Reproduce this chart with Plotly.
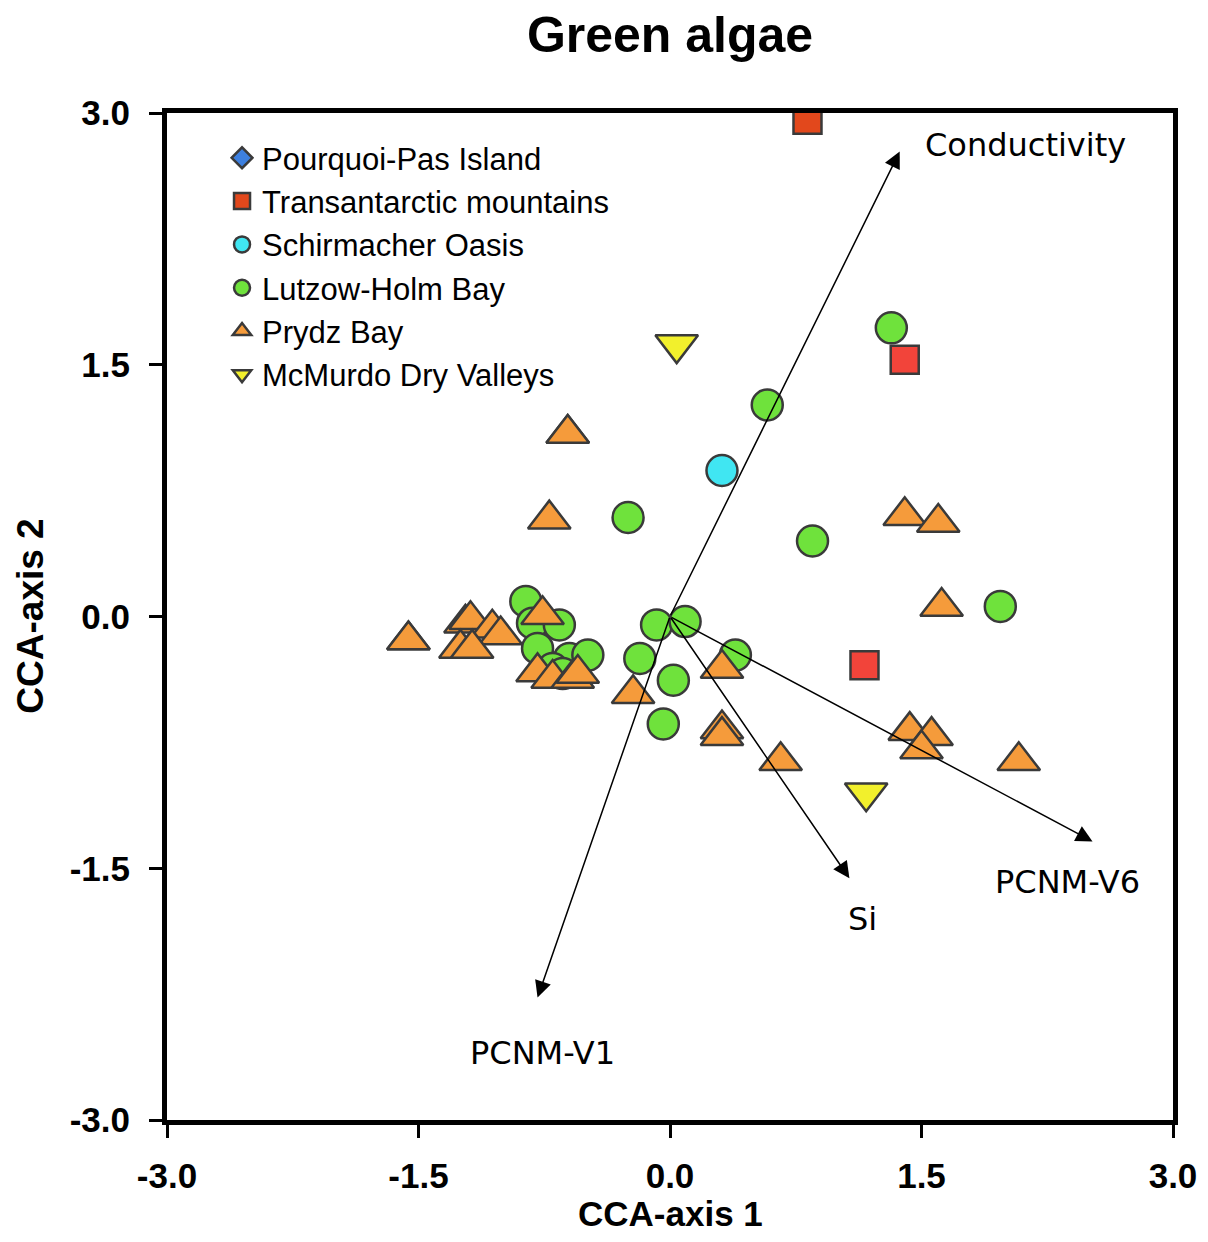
import plotly.graph_objects as go

# ---- data ----
trans_x = [0.82, 1.40, 1.16]
trans_y = [2.96, 1.53, -0.29]
trans_colors = ["#e2481c", "#f2443a", "#f2443a"]

schir_x = [0.31]
schir_y = [0.87]

lutz_x = [1.32, 0.58, -0.25, 0.85, 1.97, -0.86, -0.82, -0.66, -0.60, -0.49, -0.08, 0.09,
          -0.18, 0.02, 0.39, -0.04, -0.79, -0.70, -0.64]
lutz_y = [1.72, 1.26, 0.59, 0.45, 0.06, 0.09, -0.04, -0.05, -0.25, -0.23, -0.05, -0.03,
          -0.25, -0.38, -0.23, -0.64, -0.19, -0.31, -0.34]

prydz_x = [-1.56, -1.56, -0.61, -0.61, -0.72, -1.22, -1.19, -1.06, -1.01, -1.25, -1.18, -0.76,
           -0.79, -0.70, -0.58, -0.55, -0.22, 0.31, 0.31, 0.31, 0.66, 1.40, 1.60, 1.62,
           1.43, 1.56, 1.50, 2.08]
prydz_y = [-0.14, -0.14, 1.09, 1.09, 0.58, -0.04, -0.02, -0.07, -0.11, -0.19, -0.19, 0.01,
           -0.33, -0.37, -0.37, -0.34, -0.46, -0.31, -0.67, -0.71, -0.86, 0.60, 0.56, 0.06,
           -0.68, -0.71, -0.79, -0.86]

mcm_x = [0.04, 1.17]
mcm_y = [1.62, -1.05]

vec_names = ["Conductivity", "PCNM-V1", "Si", "PCNM-V6"]
vec_x = [1.37, -0.79, 1.07, 2.52]
vec_y = [2.77, -2.27, -1.56, -1.34]
lab_x = [2.12, -0.76, 1.15, 2.37]
lab_y = [2.81, -2.60, -1.80, -1.58]

tick_vals = [-3.0, -1.5, 0.0, 1.5, 3.0]
tick_text = ["-3.0", "-1.5", "0.0", "1.5", "3.0"]

# ---- figure ----
LINE = dict(color="#3a3a3a", width=2.5)
fig = go.Figure()

fig.add_trace(go.Scatter(x=[None], y=[None], mode="markers", name="Pourquoi-Pas Island",
                         marker=dict(symbol="diamond", size=30, color="#3d80e0", line=LINE)))
fig.add_trace(go.Scatter(x=trans_x, y=trans_y, mode="markers", name="Transantarctic mountains",
                         marker=dict(symbol="square", size=28, color=trans_colors, line=LINE)))
fig.add_trace(go.Scatter(x=schir_x, y=schir_y, mode="markers", name="Schirmacher Oasis",
                         marker=dict(symbol="circle", size=31, color="#40e6f2", line=LINE)))
fig.add_trace(go.Scatter(x=lutz_x, y=lutz_y, mode="markers", name="Lutzow-Holm Bay",
                         marker=dict(symbol="circle", size=31, color="#6fe23c", line=LINE)))
fig.add_trace(go.Scatter(x=prydz_x, y=prydz_y, mode="markers", name="Prydz Bay",
                         marker=dict(symbol="triangle-up", size=37, color="#f59b3b", line=LINE)))
fig.add_trace(go.Scatter(x=mcm_x, y=mcm_y, mode="markers", name="McMurdo Dry Valleys",
                         marker=dict(symbol="triangle-down", size=37, color="#f2f02c", line=LINE)))

for n, vx, vy, lx, ly in zip(vec_names, vec_x, vec_y, lab_x, lab_y):
    fig.add_annotation(x=vx, y=vy, ax=0, ay=0, xref="x", yref="y", axref="x", ayref="y",
                       showarrow=True, arrowhead=2, arrowsize=2.2, arrowwidth=1.5,
                       arrowcolor="black", text="")
    fig.add_annotation(x=lx, y=ly, xref="x", yref="y", text=n, showarrow=False,
                       font=dict(family="DejaVu Sans", size=32, color="black"))

axis_common = dict(range=[-3, 3], tickvals=tick_vals, ticktext=tick_text,
                   ticks="outside", ticklen=13, tickwidth=3, tickcolor="black",
                   showgrid=False, zeroline=False, showline=True, linewidth=5,
                   linecolor="black", mirror=True, automargin=False,
                   tickfont=dict(family="Liberation Sans", size=35, color="black", weight="bold"))

fig.update_xaxes(**axis_common, ticklabelstandoff=8)
fig.update_yaxes(**axis_common, ticklabelstandoff=12)

# axis titles
fig.add_annotation(x=0.5, y=-0.0924, xref="paper", yref="paper", text="<b>CCA-axis 1</b>",
                   showarrow=False, xanchor="center", yanchor="middle",
                   font=dict(family="Liberation Sans", size=35, color="black"))
fig.add_annotation(x=-0.136, y=0.5, xref="paper", yref="paper", text="<b>CCA-axis 2</b>",
                   showarrow=False, xanchor="center", yanchor="middle", textangle=-90,
                   font=dict(family="Liberation Sans", size=37, color="black"))

fig.update_layout(
    width=1192, height=1226,
    margin=dict(l=159, r=27, t=105, b=114, autoexpand=False),
    paper_bgcolor="white", plot_bgcolor="white",
    title=dict(text="<b>Green algae</b>", x=0.5554, xanchor="center", xref="container",
               y=0.9785, yanchor="middle", yref="container",
               font=dict(family="Liberation Sans", size=50, color="black")),
    legend=dict(x=0.0547, y=0.982, xanchor="left", yanchor="top", bgcolor="rgba(0,0,0,0)",
                font=dict(family="Liberation Sans", size=31, color="black"),
                itemsizing="trace", tracegroupgap=0),
    showlegend=True,
)

fig.write_html("out.html")
